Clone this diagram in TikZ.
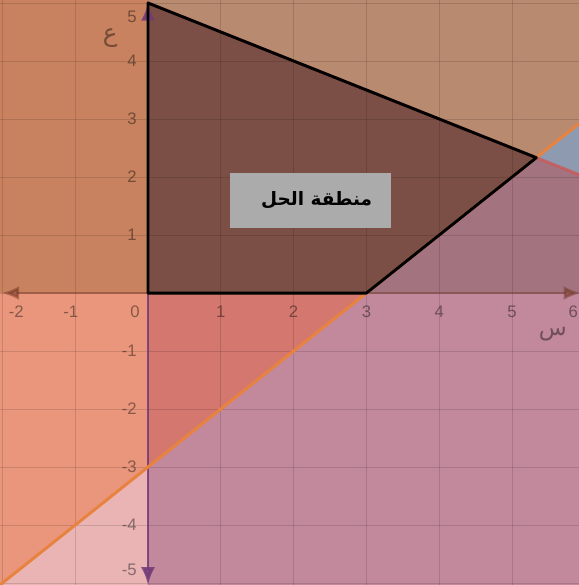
\documentclass[tikz,border=0pt]{standalone}
\usepackage{fontspec}
\setmainfont{Liberation Sans}
\newfontfamily\arabicfont[Script=Arabic]{DejaVu Sans}
\TeXXeTstate=1
\usetikzlibrary{calc,arrows.meta}
\definecolor{cTL}{HTML}{C8825F}
\definecolor{cSalmon}{HTML}{EA967C}
\definecolor{cPink}{HTML}{EAB4B4}
\definecolor{cRose}{HTML}{D3776F}
\definecolor{cPurple}{HTML}{C2889C}
\definecolor{cMauve}{HTML}{A37480}
\definecolor{cSlate}{HTML}{8E9AB0}
\definecolor{cTan}{HTML}{B88A70}
\definecolor{cDark}{HTML}{7B4F46}
\definecolor{cOrange}{HTML}{E8833F}
\definecolor{cRed}{HTML}{C85A5A}
\definecolor{cAxisY}{HTML}{733A78}
\definecolor{cAxisX}{HTML}{6E3220}
\definecolor{cBox}{HTML}{ABABAB}

\begin{document}
\begin{tikzpicture}[x=1.456cm,y=1.16cm,line join=round,>={Latex[length=10pt,width=8pt]},
	tick/.style={text=black,text opacity=0.42,font=\fontsize{9.5}{11}\selectfont}]
	% khung
	\coordinate (SW) at (-2.033,-5.034);
	\coordinate (NE) at (5.92,5.052);
	\useasboundingbox (SW) rectangle (NE);
	\clip (SW) rectangle (NE);
	\coordinate (O) at (0,0);
	\coordinate (A) at (3,0);
	\coordinate (V) at (16/3,7/3);
	\coordinate (C) at (0,5);
	\coordinate (P) at (0,-3);
	% cac mien
	\fill[cTL](-2.033,0)--(O)--(0,5.052)--(-2.033,5.052)--cycle;
	\fill[cSalmon](-2.033,0)--(O)--(P)--(-2.033,-5.033)--cycle;
	\fill[cPink](-2.033,-5.033)--(P)--(0,-5.034)--(SW)--cycle;
	\fill[cRose](O)--(A)--(P)--cycle;
	\fill[cPurple](P)--(A)--(5.92,0)--(5.92,-5.034)--(0,-5.034)--cycle;
	\fill[cMauve](A)--(5.92,0)--(5.92,2.04)--(V)--cycle;
	\fill[cSlate](V)--(5.92,2.92)--(5.92,2.04)--cycle;
	\fill[cTan](C)--(V)--(5.92,2.92)--(NE)--(0,5.052)--cycle;
	\fill[cDark](O)--(A)--(V)--(C)--cycle;
	\foreach \i in {-2,...,6}
		\draw[black,opacity=0.13,line width=0.5pt](\i,-6)--(\i,6);
	\foreach \j in {-5,...,5}
		\draw[black,opacity=0.13,line width=0.5pt](-3,\j)--(7,\j);
	% truc
	\coordinate (xl) at (-2.01,0);
	\coordinate (xr) at (5.95,0);
	\coordinate (yt) at (0,5.0);
	\coordinate (yb) at (0,-5.03);
	\draw[<->,cAxisX,opacity=0.45,line width=1.6pt](xl)--(xr);
	\draw[<->,cAxisY,opacity=0.85,line width=1.6pt](yt)--(yb);
	% duong thang
	\draw[cOrange,line width=1.7pt](-2.033,-5.033)--(5.92,2.92);
	\draw[cRed,opacity=0.85,line width=1.7pt](C)--(5.92,2.04);
	\draw[line width=1.7pt](O)--(A)--(V)--(C)--cycle;
	% so
	\node[tick] (xm2) at (-1.81,-0.33) {-2};
	\node[tick] (xm1) at (-1.06,-0.33) {-1};
	\node[tick] (x0) at (-0.18,-0.33) {0};
	\foreach \i in {1,...,5}
		\node[tick] (x\i) at (\i,-0.33) {\i};
	\node[tick] (x6) at (5.84,-0.33) {6};
	\foreach \j in {-4,-3,-2,-1,1,2,3,4}
		\node[tick,anchor=east] (y\j) at (-0.07,\j) {\j};
	\node[tick,anchor=east] (y5) at (-0.07,4.76) {5};
	\node[tick,anchor=east] (ym5) at (-0.07,-4.78) {-5};
	\node[tick,font=\arabicfont\fontsize{14}{16}\selectfont] (ly) at (-0.52,4.4) {\beginR ع\endR};
	\node[tick,font=\arabicfont\fontsize{13}{15}\selectfont] (lx) at (5.56,-0.7) {\beginR س\endR};
	\node[fill=cBox,minimum width=3.22cm,minimum height=1.1cm,inner sep=0pt] (sol) at (2.23,1.595)
		{\hspace*{0.25cm}\arabicfont\bfseries\fontsize{10.5}{13}\selectfont\beginR منطقة الحل\endR};
\end{tikzpicture}
\end{document}
